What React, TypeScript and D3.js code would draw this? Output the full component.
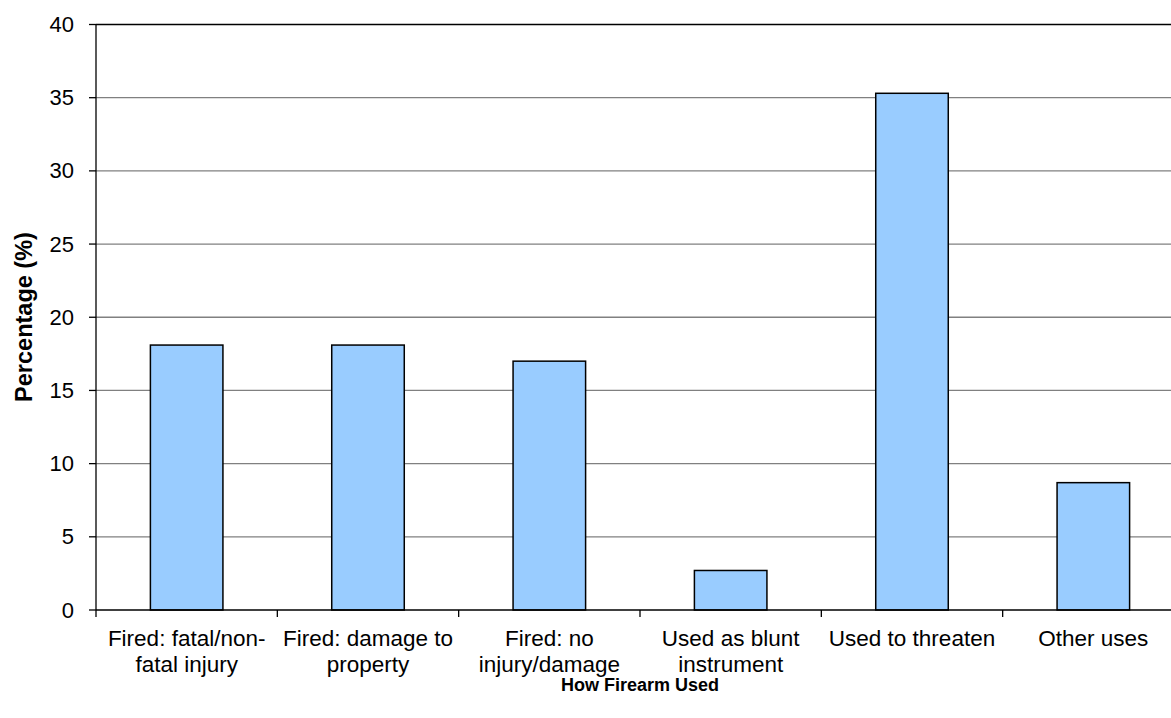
import React from "react";
import * as d3 from "d3";

const categories = [
  "Fired: fatal/non-fatal injury",
  "Fired: damage to property",
  "Fired: no injury/damage",
  "Used as blunt instrument",
  "Used to threaten",
  "Other uses",
];
const categoryLines = [
  ["Fired: fatal/non-", "fatal injury"],
  ["Fired: damage to", "property"],
  ["Fired: no", "injury/damage"],
  ["Used as blunt", "instrument"],
  ["Used to threaten"],
  ["Other uses"],
];
const percentages = [18.1, 18.1, 17.0, 2.7, 35.3, 8.7];
const yTicks = [0, 5, 10, 15, 20, 25, 30, 35, 40];

const W = 1171;
const H = 718;
const M = { left: 96, top: 24.5, right: 1184, bottom: 610 };
const FONT = "'Liberation Sans', Arial, sans-serif";

export default function App() {
  const x = d3.scaleBand<string>().domain(categories).range([M.left, M.right]).padding(0);
  const y = d3.scaleLinear().domain([0, 40]).range([M.bottom, M.top]);
  const bw = x.bandwidth() * 0.4;

  return (
    <svg
      width={W}
      height={H}
      style={{ position: "absolute", left: 0, top: 0, background: "#fff" }}
      fontFamily={FONT}
    >
      {/* gridlines */}
      {yTicks.filter((t) => t > 0).map((t) => (
        <line
          key={t}
          x1={M.left}
          x2={M.right}
          y1={y(t)}
          y2={y(t)}
          stroke={t === 40 ? "#000" : "#808080"}
          strokeWidth={1.3}
        />
      ))}
      {/* y ticks and labels */}
      {yTicks.map((t) => (
        <g key={"yt" + t}>
          <line x1={M.left - 7} x2={M.left} y1={y(t)} y2={y(t)} stroke="#000" strokeWidth={1.3} />
          <text x={74} y={y(t)} textAnchor="end" dominantBaseline="central" fontSize={22} fill="#000">
            {t}
          </text>
        </g>
      ))}
      {/* bars */}
      {categories.map((c, i) => {
        const cx = (x(c) as number) + x.bandwidth() / 2;
        return (
          <rect
            key={c}
            x={cx - bw / 2}
            y={y(percentages[i])}
            width={bw}
            height={y(0) - y(percentages[i])}
            fill="#99CCFF"
            stroke="#000"
            strokeWidth={1.5}
          />
        );
      })}
      {/* axes */}
      <line x1={M.left} x2={M.left} y1={M.top} y2={M.bottom} stroke="#000" strokeWidth={1.3} />
      <line x1={M.left} x2={M.right} y1={M.bottom} y2={M.bottom} stroke="#000" strokeWidth={1.3} />
      {/* x category boundary ticks */}
      {categories.concat(["end"]).map((c, i) => {
        const xp = M.left + i * x.bandwidth();
        return <line key={"xt" + i} x1={xp} x2={xp} y1={M.bottom} y2={M.bottom + 7} stroke="#000" strokeWidth={1.3} />;
      })}
      {/* category labels */}
      {categories.map((c, i) => {
        const cx = (x(c) as number) + x.bandwidth() / 2;
        return (
          <text key={"cl" + c} x={cx} textAnchor="middle" fontSize={22.5} fill="#000">
            {categoryLines[i].map((ln, j) => (
              <tspan key={j} x={cx} y={646 + j * 25.7}>
                {ln}
              </tspan>
            ))}
          </text>
        );
      })}
      {/* axis titles */}
      <text x={(M.left + M.right) / 2} y={691} textAnchor="middle" fontSize={18} fontWeight="bold" fill="#000">
        How Firearm Used
      </text>
      <text
        transform={`translate(32, ${317}) rotate(-90)`}
        textAnchor="middle"
        fontSize={23.5}
        fontWeight="bold"
        fill="#000"
      >
        Percentage (%)
      </text>
    </svg>
  );
}
